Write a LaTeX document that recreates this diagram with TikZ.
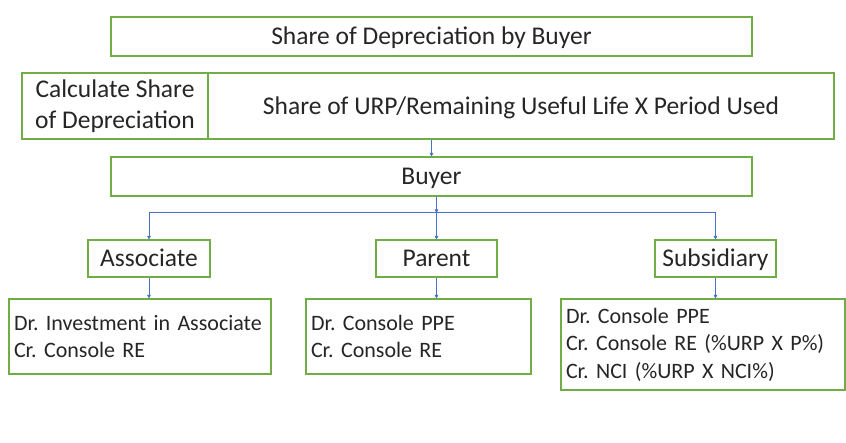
\documentclass[tikz,border=0pt]{standalone}
\usepackage{fontspec}
\setmainfont{Carlito}
\usetikzlibrary{arrows.meta}
\definecolor{boxgreen}{RGB}{112,173,71}
\definecolor{linkblue}{RGB}{68,114,196}
\definecolor{inkgray}{RGB}{38,38,38}
\frenchspacing
\begin{document}
\begin{tikzpicture}[x=1pt,y=-1pt,
  box/.style={draw=boxgreen,line width=1.1pt,fill=white,text=inkgray,
    inner sep=0pt,font=\fontsize{25.5}{31}\selectfont},
  oneline/.style={box,text height=17pt,text depth=0.6pt},
  entry/.style={box,align=left,inner xsep=5pt,font=\fontsize{22}{27.5}\selectfont},
  conn/.style={draw=linkblue,line width=0.6pt,-{Triangle[length=3.5pt,width=3.5pt]}},
  bar/.style={draw=linkblue,line width=1pt}]
\useasboundingbox (0,0) rectangle (846,443);
\fill[white] (0,0) rectangle (846,443);

% header and formula row
\node[oneline,minimum width=641pt,minimum height=39pt] (title) at (431.5,36.5) {Share of Depreciation by Buyer};
\node[box,minimum width=186pt,minimum height=66pt,align=center] (calcL) at (115,106) {Calculate Share\\of Depreciation};
\node[oneline,minimum width=626pt,minimum height=66pt] (calcR) at (521,106) {Share of URP/Remaining Useful Life X Period Used};

% buyer and the three kinds of buyer
\node[oneline,minimum width=641pt,minimum height=39pt] (buyer) at (431.5,176.5) {Buyer};
\node[oneline,minimum width=122pt,minimum height=37pt] (assoc) at (149,258.5) {Associate};
\node[oneline,minimum width=121pt,minimum height=37pt] (parent) at (436.5,258.5) {Parent};
\node[oneline,minimum width=121pt,minimum height=37pt] (subs) at (715.5,258.5) {Subsidiary};

% journal entries (one unbreakable line per account)
\node[entry,minimum width=262pt,minimum height=75pt,text width=252pt] (e1) at (140,336.5)
  {\mbox{Dr. Investment in Associate}\\\mbox{Cr. Console RE}};
\node[entry,minimum width=225pt,minimum height=75pt,text width=215pt] (e2) at (418.5,336.5)
  {\mbox{Dr. Console PPE}\\\mbox{Cr. Console RE}};
\node[entry,minimum width=284pt,minimum height=91pt,text width=274pt] (e3) at (703,344.5)
  {\mbox{Dr. Console PPE}\\\mbox{Cr. Console RE (\%URP X P\%)}\\\mbox{Cr. NCI (\%URP X NCI\%)}};

\coordinate (hub) at (436.5,213);

% connectors
\draw[conn] (buyer.north |- calcR.south) -- (buyer.north);
\draw[bar] (assoc |- hub) -- (subs |- hub);
\draw[conn] (parent |- buyer.south) -- (hub);
\draw[conn] (assoc |- hub) -- (assoc.north);
\draw[conn] (hub) -- (parent.north);
\draw[conn] (subs |- hub) -- (subs.north);
\draw[conn] (assoc.south) -- (assoc.south |- e1.north);
\draw[conn] (parent.south) -- (parent.south |- e2.north);
\draw[conn] (subs.south) -- (subs.south |- e3.north);
\end{tikzpicture}
\end{document}
